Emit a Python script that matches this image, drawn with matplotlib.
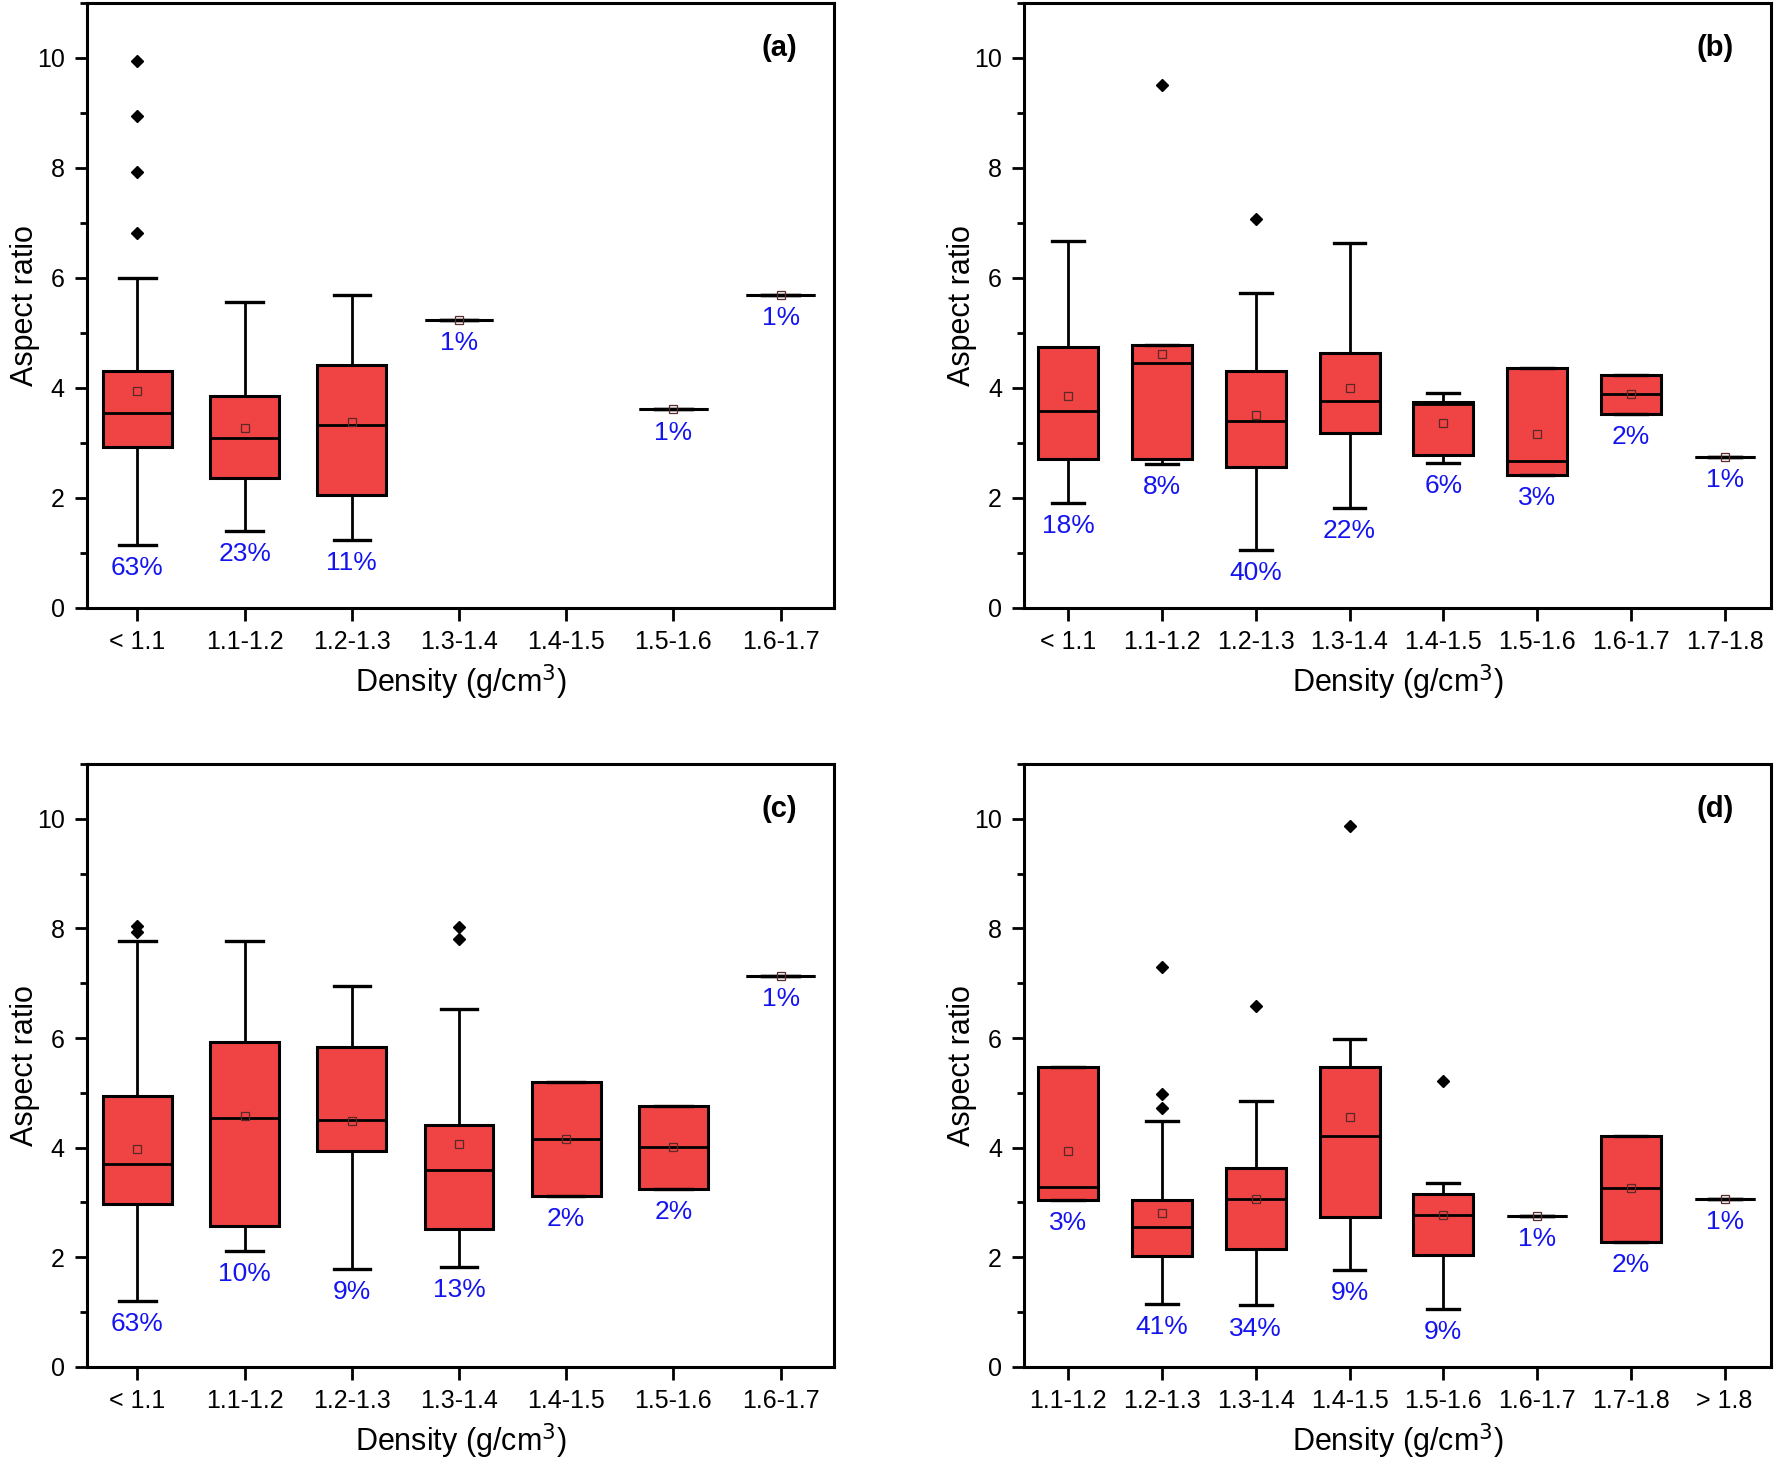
import matplotlib
matplotlib.use("Agg")
import matplotlib.pyplot as plt
from matplotlib.ticker import MultipleLocator

plt.rcParams['font.family'] = ['Liberation Sans', 'DejaVu Sans']

# ---------------- data ----------------
cats_a = ["< 1.1", "1.1-1.2", "1.2-1.3", "1.3-1.4", "1.4-1.5", "1.5-1.6", "1.6-1.7"]
q1_a = [2.93, 2.37, 2.05, 5.24, None, 3.61, 5.69]
med_a = [3.54, 3.09, 3.32, 5.24, None, 3.61, 5.69]
q3_a = [4.31, 3.85, 4.41, 5.24, None, 3.61, 5.69]
lo_a = [1.15, 1.40, 1.24, 5.24, None, 3.61, 5.69]
hi_a = [6.00, 5.56, 5.69, 5.24, None, 3.61, 5.69]
mean_a = [3.94, 3.27, 3.38, 5.24, None, 3.61, 5.69]
fl_a = [[6.81, 7.92, 8.94, 9.94], [], [], [], [], [], []]
pct_a = ["63%", "23%", "11%", "1%", "", "1%", "1%"]

cats_b = ["< 1.1", "1.1-1.2", "1.2-1.3", "1.3-1.4", "1.4-1.5", "1.5-1.6", "1.6-1.7", "1.7-1.8"]
q1_b = [2.70, 2.70, 2.56, 3.19, 2.79, 2.42, 3.52, 2.74]
med_b = [3.59, 4.46, 3.40, 3.77, 3.70, 2.67, 3.89, 2.74]
q3_b = [4.75, 4.78, 4.30, 4.63, 3.74, 4.37, 4.23, 2.74]
lo_b = [1.91, 2.62, 1.06, 1.82, 2.64, 2.42, 3.52, 2.74]
hi_b = [6.68, 4.78, 5.73, 6.63, 3.90, 4.37, 4.23, 2.74]
mean_b = [3.86, 4.62, 3.51, 4.00, 3.37, 3.17, 3.89, 2.74]
fl_b = [[], [9.51], [7.08], [], [], [], [], []]
pct_b = ["18%", "8%", "40%", "22%", "6%", "3%", "2%", "1%"]

cats_c = ["< 1.1", "1.1-1.2", "1.2-1.3", "1.3-1.4", "1.4-1.5", "1.5-1.6", "1.6-1.7"]
q1_c = [2.98, 2.57, 3.93, 2.51, 3.12, 3.24, 7.13]
med_c = [3.70, 4.55, 4.50, 3.59, 4.15, 4.01, 7.13]
q3_c = [4.95, 5.92, 5.83, 4.42, 5.19, 4.76, 7.13]
lo_c = [1.21, 2.12, 1.78, 1.83, 3.12, 3.24, 7.13]
hi_c = [7.77, 7.77, 6.95, 6.53, 5.19, 4.76, 7.13]
mean_c = [3.98, 4.57, 4.49, 4.07, 4.16, 4.01, 7.13]
fl_c = [[7.94, 8.04], [], [], [7.80, 8.02], [], [], []]
pct_c = ["63%", "10%", "9%", "13%", "2%", "2%", "1%"]

cats_d = ["1.1-1.2", "1.2-1.3", "1.3-1.4", "1.4-1.5", "1.5-1.6", "1.6-1.7", "1.7-1.8", "> 1.8"]
q1_d = [3.04, 2.03, 2.15, 2.73, 2.05, 2.76, 2.28, 3.07]
med_d = [3.29, 2.55, 3.07, 4.22, 2.77, 2.76, 3.26, 3.07]
q3_d = [5.48, 3.05, 3.62, 5.48, 3.15, 2.76, 4.22, 3.07]
lo_d = [3.04, 1.15, 1.12, 1.77, 1.05, 2.76, 2.28, 3.07]
hi_d = [5.48, 4.49, 4.85, 5.99, 3.36, 2.76, 4.22, 3.07]
mean_d = [3.94, 2.81, 3.07, 4.56, 2.77, 2.76, 3.26, 3.07]
fl_d = [[], [4.72, 4.98, 7.29], [6.58], [9.86], [5.21], [], [], []]
pct_d = ["3%", "41%", "34%", "9%", "9%", "1%", "2%", "1%"]

panels = [
    ("(a)", cats_a, q1_a, med_a, q3_a, lo_a, hi_a, mean_a, fl_a, pct_a),
    ("(b)", cats_b, q1_b, med_b, q3_b, lo_b, hi_b, mean_b, fl_b, pct_b),
    ("(c)", cats_c, q1_c, med_c, q3_c, lo_c, hi_c, mean_c, fl_c, pct_c),
    ("(d)", cats_d, q1_d, med_d, q3_d, lo_d, hi_d, mean_d, fl_d, pct_d),
]

BOX_RED = "#F04343"
PCT_BLUE = "#1414F0"

fig = plt.figure(figsize=(17.75, 14.58), dpi=100)
rects = [
    [0.049, 0.583, 0.421, 0.415],
    [0.577, 0.583, 0.421, 0.415],
    [0.049, 0.0625, 0.421, 0.4135],
    [0.577, 0.0625, 0.421, 0.4135],
]

for rect, (lab, cats, q1, med, q3, lo, hi, mean, fl, pct) in zip(rects, panels):
    ax = fig.add_axes(rect)
    stats = []
    positions = []
    for i in range(len(cats)):
        if q1[i] is None:
            continue
        stats.append(dict(med=med[i], q1=q1[i], q3=q3[i], whislo=lo[i],
                          whishi=hi[i], mean=mean[i], fliers=fl[i]))
        positions.append(i)
    ax.bxp(stats, positions=positions, widths=0.64, capwidths=0.34,
           patch_artist=True, showmeans=True, manage_ticks=False,
           boxprops=dict(facecolor=BOX_RED, edgecolor="black", linewidth=2.2),
           medianprops=dict(color="black", linewidth=2.0),
           whiskerprops=dict(color="black", linewidth=2.0),
           capprops=dict(color="black", linewidth=2.4),
           meanprops=dict(marker="s", markersize=5.5, markerfacecolor="none",
                          markeredgecolor="#5a2a2a", markeredgewidth=0.9),
           flierprops=dict(marker="D", markersize=6.5, markerfacecolor="black",
                           markeredgecolor="black"))
    # percentage labels below the lowest point of each box
    for i in range(len(cats)):
        if q1[i] is None or not pct[i]:
            continue
        ax.annotate(pct[i], xy=(i, lo[i]), xytext=(0, -8), textcoords="offset points",
                    ha="center", va="top", color=PCT_BLUE, fontsize=19)

    ax.set_xlim(-0.47, len(cats) - 0.5)
    ax.set_ylim(0, 11)
    ax.set_xticks(range(len(cats)))
    ax.set_xticklabels(cats)
    ax.yaxis.set_major_locator(MultipleLocator(2))
    ax.yaxis.set_minor_locator(MultipleLocator(1))
    ax.tick_params(axis="both", which="major", direction="out", length=9, width=2,
                   labelsize=18, pad=7)
    ax.tick_params(axis="y", which="minor", direction="out", length=5, width=2)
    ax.tick_params(axis="x", which="minor", bottom=False)
    for sp in ax.spines.values():
        sp.set_linewidth(2.2)
    ax.set_ylabel("Aspect ratio", fontsize=22, labelpad=-2)
    ax.set_xlabel("Density (g/cm$^3$)", fontsize=22, labelpad=6)
    ax.text(0.95, 0.925, lab, transform=ax.transAxes, ha="right", va="center",
            fontsize=21, fontweight="bold")

fig.savefig("out.png", dpi=100)
